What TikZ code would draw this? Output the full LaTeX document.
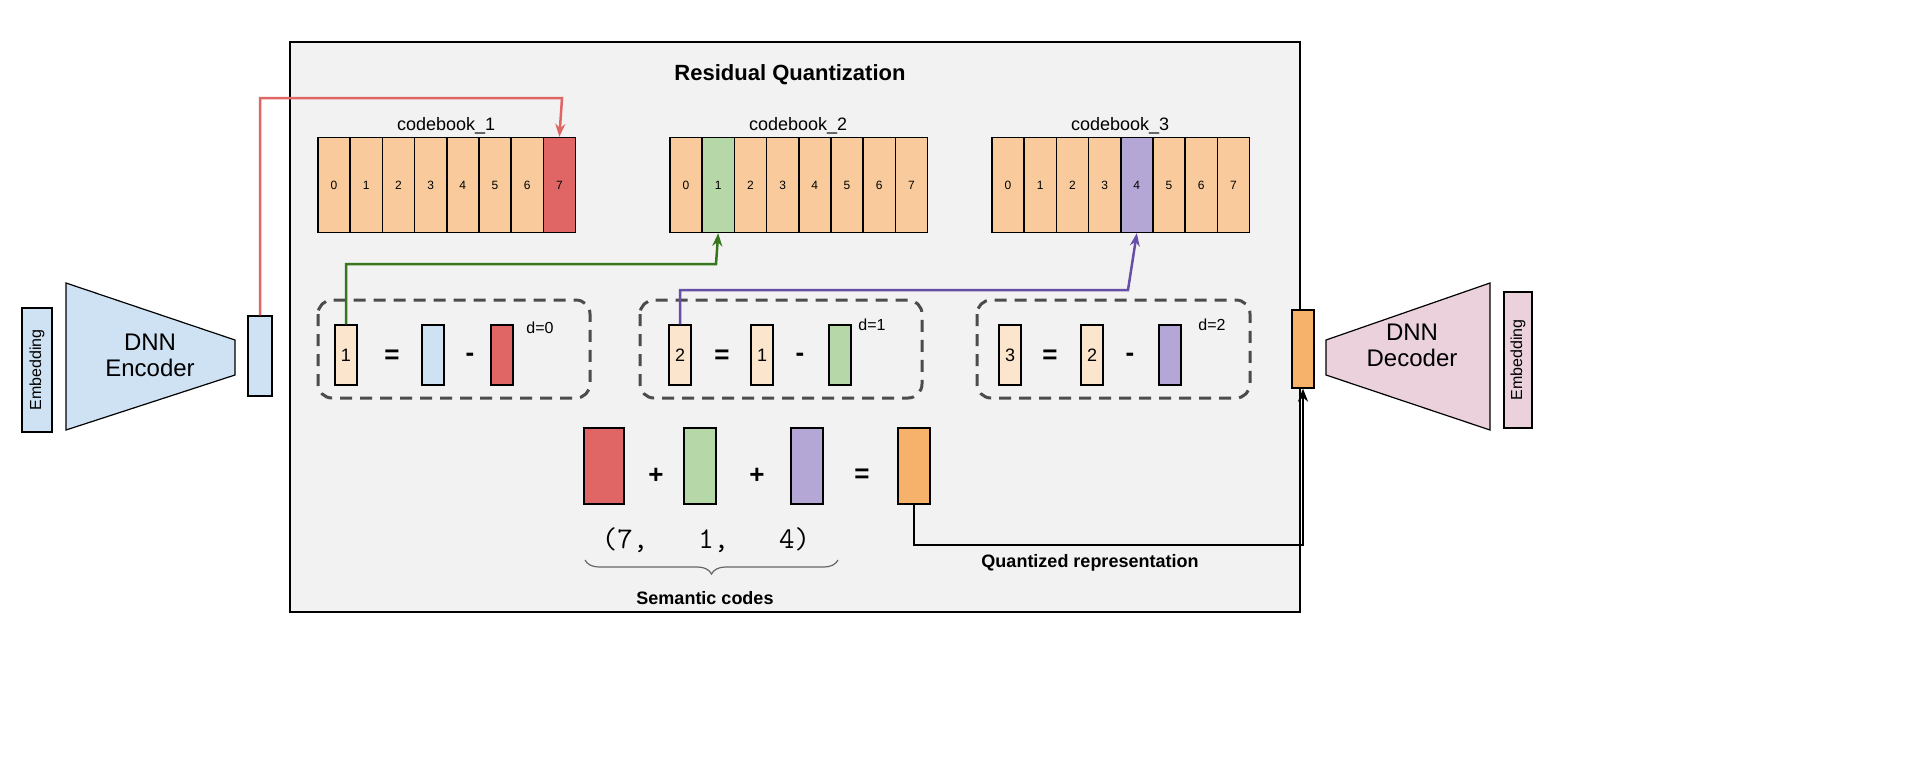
\documentclass[tikz,border=0pt]{standalone}
\usepackage{fontspec}
\setmainfont{Liberation Sans}
\usetikzlibrary{calc}
\usetikzlibrary{positioning}
\usetikzlibrary{arrows.meta}
\usetikzlibrary{decorations.pathreplacing}
\definecolor{cbred}{HTML}{E06666}
\definecolor{cbgreen}{HTML}{B6D7A8}
\definecolor{cbpurple}{HTML}{B4A7D6}
\definecolor{cborange}{HTML}{F9CB9C}
\definecolor{cblight}{HTML}{FCE5CD}
\definecolor{cbblue}{HTML}{CFE2F3}
\definecolor{cbpink}{HTML}{EAD1DC}
\definecolor{cbquant}{HTML}{F6B26B}
\definecolor{redline}{HTML}{E06666}
\definecolor{greenline}{HTML}{38761D}
\definecolor{purpleline}{HTML}{674EA7}

\tikzset{
  cell/.style={draw, line width=1.4pt, minimum width=32pt, minimum height=95pt, inner sep=0pt, font=\fontsize{12}{12}\selectfont},
  vec/.style={draw, line width=1.4pt, minimum width=22pt, minimum height=60pt, inner sep=0pt, font=\fontsize{18}{18}\selectfont},
  bigvec/.style={draw, line width=1.4pt, minimum width=34pt, minimum height=76pt, inner sep=0pt},
  op/.style={font=\fontsize{26}{26}\selectfont\bfseries},
  dbox/.style={draw=black!70, line width=3pt, dash pattern=on 12pt off 8pt, rounded corners=14pt},
  conn/.style={line width=2.5pt, -{Stealth[length=13pt,width=10pt]}},
}

\begin{document}
\begin{tikzpicture}[x=1pt,y=-1pt]
\useasboundingbox (0,0) rectangle (1920,780);

% quantization frame
\draw[fill=black!5, line width=1.2pt] (290,42) rectangle (1300,612);
\node[font=\fontsize{22}{22}\selectfont\bfseries] (title) at (790,75) {Residual Quantization};

% codebooks
\foreach \cb/\x/\hit/\col in {1/334/7/cbred, 2/686/1/cbgreen, 3/1008/4/cbpurple}{
  \foreach \i in {0,...,7}{
    \ifnum\i=\hit
      \node[cell, fill=\col] (cb\cb-\i) at (\x+\i*32.2,185) {\i};
    \else
      \node[cell, fill=cborange] (cb\cb-\i) at (\x+\i*32.2,185) {\i};
    \fi
  }
  \node[font=\fontsize{18}{18}\selectfont, above=-1pt of cb\cb-4.north west] {codebook\_\cb};
}

% encoder side
\node[draw, line width=1.2pt, fill=cbblue, minimum width=30pt, minimum height=124pt, inner sep=0pt] (embin) at (37,370) {};
\node[rotate=90, font=\fontsize{16}{16}\selectfont] at (embin) {Embedding};
\draw[line width=1.2pt, fill=cbblue] (66,283) -- (235,340) -- (235,375) -- (66,430) -- cycle;
\node[align=center, font=\fontsize{24}{26}\selectfont] (enc) at (150,355) {DNN\\Encoder};
\node[draw, line width=1.2pt, fill=cbblue, minimum width=24pt, minimum height=80pt, inner sep=0pt] (encvec) at (260,356) {};

% decoder side
\node[draw, line width=1.2pt, fill=cbquant, minimum width=22pt, minimum height=78pt, inner sep=0pt] (decvec) at (1303,349) {};
\draw[line width=1.2pt, fill=cbpink] (1326,340) -- (1490,283) -- (1490,430) -- (1326,375) -- cycle;
\node[align=center, font=\fontsize{24}{26}\selectfont] (dec) at (1412,345) {DNN\\Decoder};
\node[draw, line width=1.2pt, fill=cbpink, minimum width=28pt, minimum height=136pt, inner sep=0pt] (embout) at (1518,360) {};
\node[rotate=90, font=\fontsize{16}{16}\selectfont] at (embout) {Embedding};

% residual steps
\draw[dbox] (318,300) rectangle (590,398);
\node[vec, fill=cblight] (r1) at (346,355) {1};
\node[op] at (392,357) {=};
\node[vec, fill=cbblue] (e1) at (433,355) {};
\node[op] at (470,357) {-};
\node[vec, fill=cbred] (q1) at (502,355) {};
\node[font=\fontsize{16}{16}\selectfont] at (540,328) {d=0};

\draw[dbox] (640,300) rectangle (922,398);
\node[vec, fill=cblight] (r2) at (680,355) {2};
\node[op] at (722,357) {=};
\node[vec, fill=cblight] (e2) at (762,355) {1};
\node[op] at (800,357) {-};
\node[vec, fill=cbgreen] (q2) at (840,355) {};
\node[font=\fontsize{16}{16}\selectfont] at (872,325) {d=1};

\draw[dbox] (977,300) rectangle (1250,398);
\node[vec, fill=cblight] (r3) at (1010,355) {3};
\node[op] at (1050,357) {=};
\node[vec, fill=cblight] (e3) at (1092,355) {2};
\node[op] at (1130,357) {-};
\node[vec, fill=cbpurple] (q3) at (1170,355) {};
\node[font=\fontsize{16}{16}\selectfont] at (1212,325) {d=2};

% sum of codewords
\node[bigvec, fill=cbred, minimum width=40pt] (s1) at (604,466) {};
\node[op] at (656,476) {+};
\node[bigvec, fill=cbgreen, minimum width=32pt] (s2) at (700,466) {};
\node[op] at (757,476) {+};
\node[bigvec, fill=cbpurple, minimum width=32pt] (s3) at (807,466) {};
\node[op] at (862,476) {=};
\node[bigvec, fill=cbquant, minimum width=32pt] (sq) at (914,466) {};

\node[font=\fontsize{30}{30}\selectfont\ttfamily] (codes) at (706,540) {(7,\hspace{50pt}1,\hspace{50pt}4)};
\draw[decorate, decoration={brace, mirror, amplitude=14pt}, line width=1.2pt, black!60] (585,560) -- (838,560);
\node[font=\fontsize{18}{18}\selectfont\bfseries] (sem) at (705,598) {Semantic codes};

% connectors
\draw[conn, redline] (encvec.north) |- (562,98) -- (cb1-7.north);
\draw[conn, greenline] (r1.north) |- (716,264) -- (cb2-1.south);
\draw[conn, purpleline] (r2.north) |- (1128,290) -- (cb3-4.south);
\draw[conn, black] (sq.south) |- (1303,545) -- (decvec.south);
\node[font=\fontsize{18}{18}\selectfont\bfseries] (qlab) at (1090,563) {Quantized representation};
\end{tikzpicture}
\end{document}
